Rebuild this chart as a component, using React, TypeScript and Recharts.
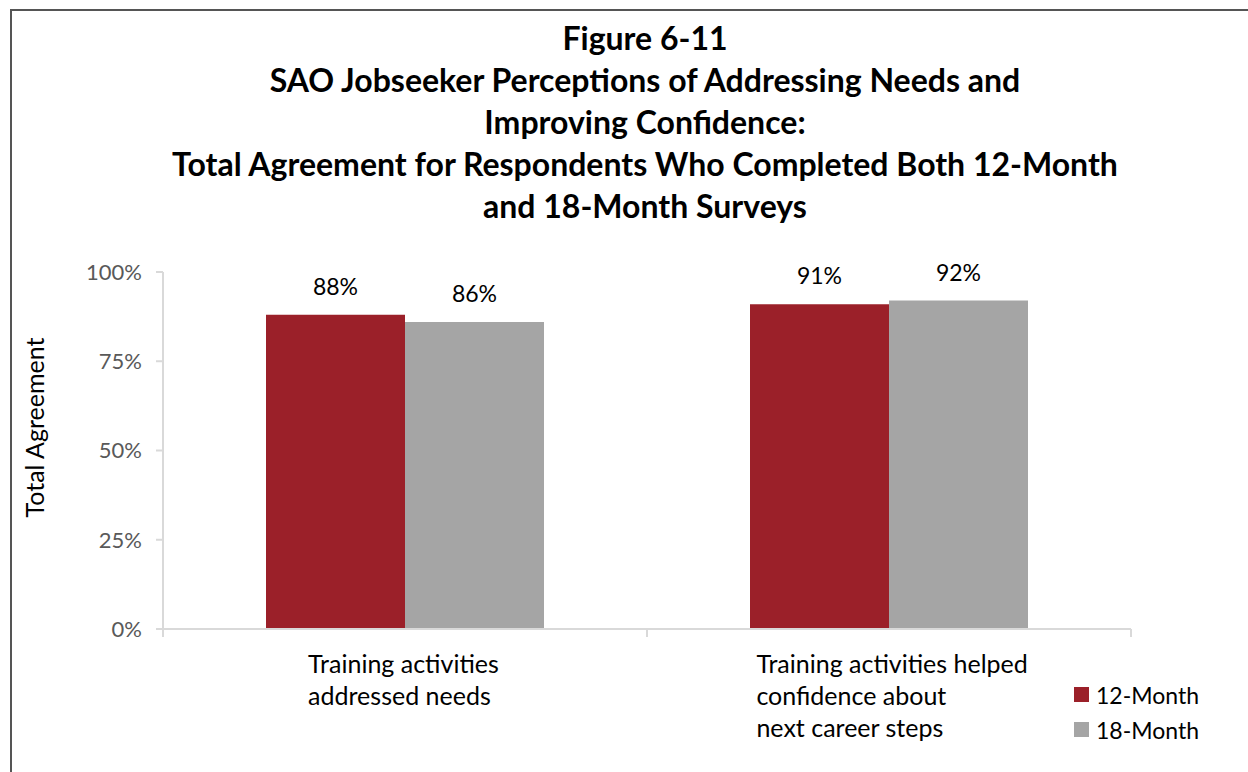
import { BarChart, Bar, XAxis, YAxis, LabelList } from 'recharts';

const categories = [
  ['Training activities', 'addressed needs'],
  ['Training activities helped', 'confidence about', 'next career steps'],
];
const month12 = [88, 91];
const month18 = [86, 92];
const yTicks = [0, 25, 50, 75, 100];
const titleLines = [
  'Figure 6-11',
  'SAO Jobseeker Perceptions of Addressing Needs and',
  'Improving Confidence:',
  'Total Agreement for Respondents Who Completed Both 12-Month',
  'and 18-Month Surveys',
];
const seriesNames = ['12-Month', '18-Month'];

const RED = '#9B2029';
const GRAY = '#A5A5A5';
const AXIS = '#D9D9D9';
const FONT = 'Lato, "Open Sans", sans-serif';

const chartData = categories.map((lines, i) => ({
  category: lines.join('\n'),
  m12: month12[i],
  m18: month18[i],
}));

// multi-line category label, block centred, lines left aligned, plus
// tick marks on the category boundaries like the original
const CategoryTick = (props: any) => {
  const { x, y, payload, index } = props;
  const lines = String(payload.value).split('\n');
  const longest = Math.max(...lines.map((l) => l.length));
  const approxWidth = longest * 10.2;
  const half = payload?.offset ?? 0;
  const tx = x - approxWidth / 2;
  return (
    <g>
      {half > 0 && index === 0 && <line x1={x - half} x2={x - half} y1={y - 8} y2={y} stroke={AXIS} strokeWidth={2} />}
      {half > 0 && <line x1={x + half} x2={x + half} y1={y - 8} y2={y} stroke={AXIS} strokeWidth={2} />}
      <text x={tx} y={y + 16} fill="#000" fontSize={25} fontFamily={FONT} textAnchor="start">
        {lines.map((l, i) => (
          <tspan key={i} x={tx} dy={i === 0 ? 20 : 32}>
            {l}
          </tspan>
        ))}
      </text>
    </g>
  );
};

const LegendBox = () => (
  <div style={{ position: 'absolute', left: 1074, top: 677, fontFamily: FONT, fontSize: 23 }}>
    {seriesNames.map((n, i) => (
      <div key={n} style={{ display: 'flex', alignItems: 'center', height: 35 }}>
        <span style={{ width: 15, height: 15, background: i === 0 ? RED : GRAY, marginRight: 7 }} />
        <span>{n}</span>
      </div>
    ))}
  </div>
);

export default function App() {
  return (
    <div style={{ position: 'absolute', left: 0, top: 0, width: 1248, height: 772, background: '#fff', overflow: 'hidden' }}>
      <div style={{ position: 'absolute', left: 10, top: 9, width: 1300, height: 800, borderTop: '2px solid #555', borderLeft: '2px solid #555' }} />
      <div style={{ position: 'absolute', left: 0, top: 17, width: 1290, textAlign: 'center', fontFamily: FONT, fontWeight: 700, fontSize: 32, lineHeight: '42px', color: '#000' }}>
        {titleLines.map((t) => (
          <div key={t}>{t}</div>
        ))}
      </div>
      <div style={{ position: 'absolute', left: 0, top: 0 }}>
        <BarChart width={1248} height={772} data={chartData} margin={{ top: 272, right: 117, left: 0, bottom: 0 }} barGap={0}>
          <XAxis dataKey="category" height={143} tickLine={false} axisLine={{ stroke: AXIS, strokeWidth: 2 }} tick={<CategoryTick />} interval={0} />
          <YAxis
            width={163}
            domain={[0, 100]}
            ticks={yTicks}
            tickFormatter={(v) => `${v}%`}
            axisLine={{ stroke: AXIS, strokeWidth: 2 }}
            tickLine={{ stroke: AXIS, strokeWidth: 2 }}
            tickSize={7}
            tickMargin={14}
            tick={{ fill: '#595959', fontSize: 22, fontFamily: FONT }}
            label={{ value: 'Total Agreement', angle: -90, position: 'center', dx: -46, dy: -23, fill: '#000', fontSize: 25, fontFamily: FONT }}
          />
          <Bar dataKey="m12" name={seriesNames[0]} fill={RED} barSize={139} isAnimationActive={false}>
            <LabelList dataKey="m12" position="top" offset={20} formatter={(v: any) => `${v}%`} fill="#000" fontSize={23} fontFamily={FONT} />
          </Bar>
          <Bar dataKey="m18" name={seriesNames[1]} fill={GRAY} barSize={139} isAnimationActive={false}>
            <LabelList dataKey="m18" position="top" offset={20} formatter={(v: any) => `${v}%`} fill="#000" fontSize={23} fontFamily={FONT} />
          </Bar>
        </BarChart>
      </div>
      <LegendBox />
    </div>
  );
}
